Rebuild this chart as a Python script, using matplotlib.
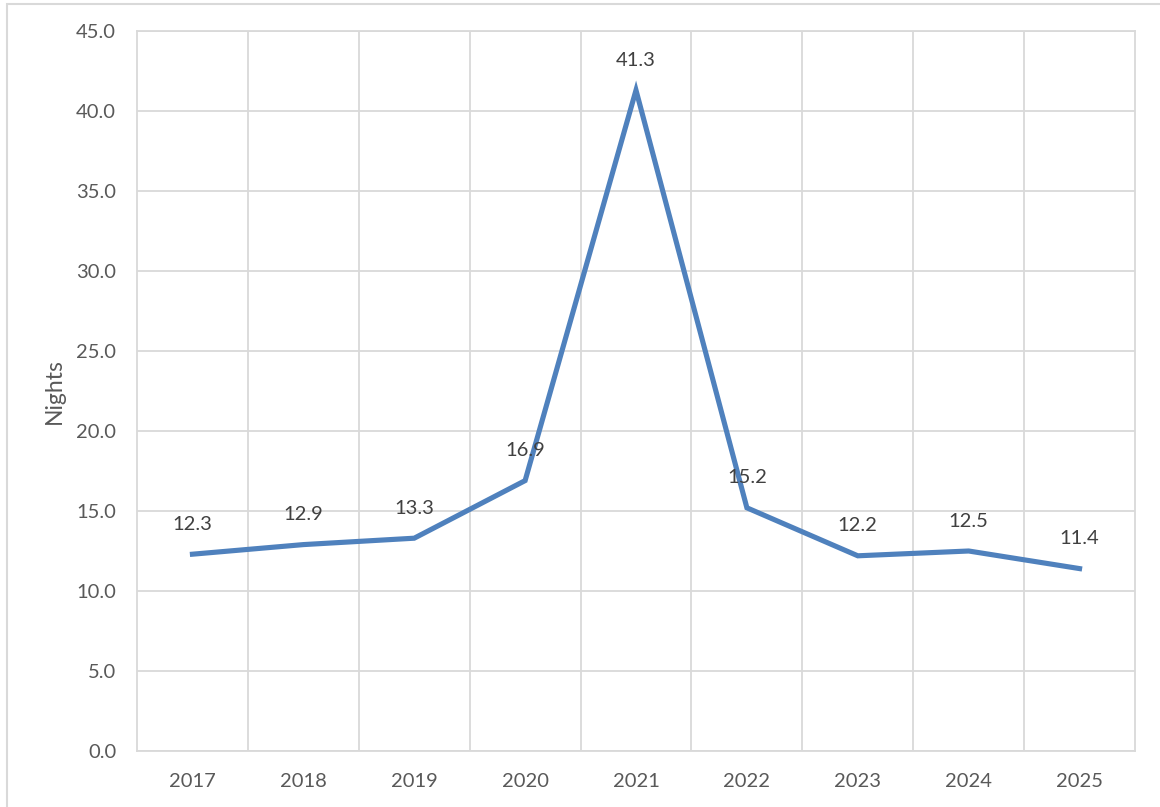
import matplotlib
matplotlib.use("Agg")
import matplotlib.pyplot as plt
from matplotlib.patches import Rectangle

# Average nights per year
years = ["2017", "2018", "2019", "2020", "2021", "2022", "2023", "2024", "2025"]
nights = [12.3, 12.9, 13.3, 16.9, 41.3, 15.2, 12.2, 12.5, 11.4]
y_ticks = [0, 5, 10, 15, 20, 25, 30, 35, 40, 45]

plt.rcParams['font.family'] = ['Lato', 'DejaVu Sans']
text_color = '#595959'
grid_color = '#d9d9d9'
line_color = '#4f81bd'

fig = plt.figure(figsize=(11.6, 8.07), dpi=100)
ax = fig.add_axes([137 / 1160, 1 - 751 / 807, (1135 - 137) / 1160, (751 - 31) / 807])

x = list(range(len(years)))
ax.plot(x, nights, color=line_color, lw=3.7, solid_joinstyle='miter', zorder=3)

for xi, v in zip(x, nights):
    ax.annotate(f"{v:.1f}", (xi, v), xytext=(0, 21.5), textcoords='offset points',
                ha='center', va='center', fontsize=14.5, color='#404040', zorder=4)

ax.set_xlim(-0.5, len(years) - 0.5)
ax.set_ylim(0, 45)
ax.set_yticks(y_ticks)
ax.set_yticklabels([f"{t:.1f}" for t in y_ticks])
ax.set_xticks(x)
ax.set_xticklabels(years)
ax.set_xticks([i + 0.5 for i in x[:-1]], minor=True)

ax.grid(axis='y', which='major', color=grid_color, lw=1.3)
ax.grid(axis='x', which='minor', color=grid_color, lw=1.3)
ax.tick_params(axis='both', which='both', length=0, labelsize=14.5, colors=text_color)
ax.tick_params(axis='y', pad=15)
ax.tick_params(axis='x', pad=16)
for s in ax.spines.values():
    s.set_color(grid_color)
    s.set_linewidth(1.3)
ax.set_axisbelow(True)

ax.set_ylabel("Nights", fontsize=16.5, color=text_color, labelpad=8)

# chart area border
fig.patches.append(Rectangle((7 / 1160, -0.05), 1.1, 1.05 - 4 / 807, transform=fig.transFigure,
                             fill=False, edgecolor=grid_color, lw=1.5))

fig.savefig("out.png", dpi=100, facecolor='white')
